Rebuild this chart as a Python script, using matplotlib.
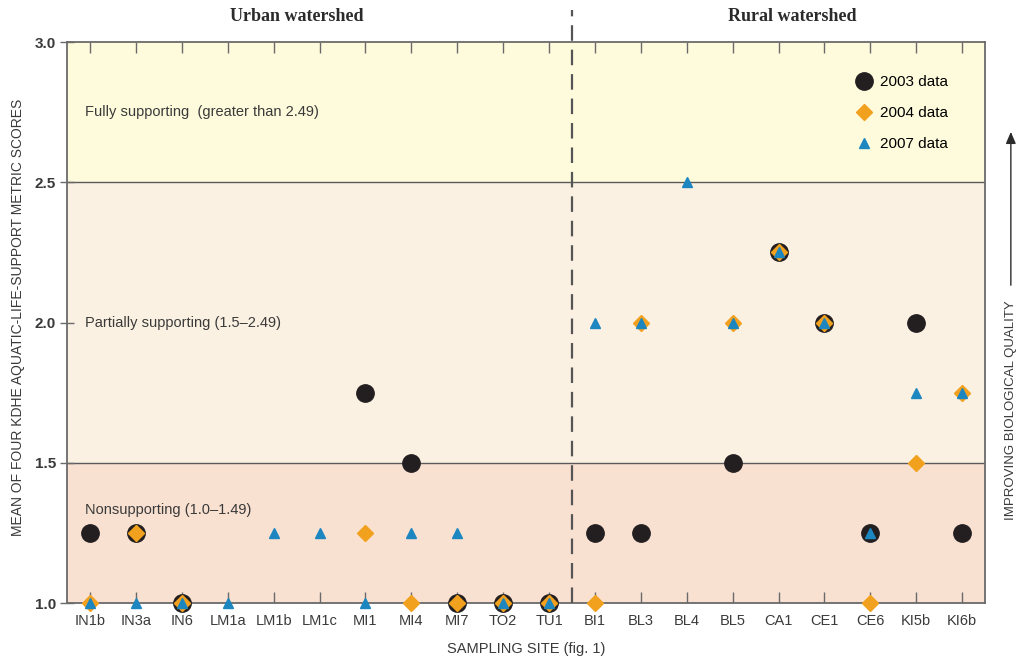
import numpy as np
import matplotlib
matplotlib.use("Agg")
import matplotlib.pyplot as plt
from matplotlib.lines import Line2D
from matplotlib.patches import FancyArrowPatch

plt.rcParams['font.family'] = ['Liberation Sans', 'DejaVu Sans']

sites = ["IN1b", "IN3a", "IN6", "LM1a", "LM1b", "LM1c", "MI1", "MI4", "MI7", "TO2", "TU1",
         "BI1", "BL3", "BL4", "BL5", "CA1", "CE1", "CE6", "KI5b", "KI6b"]
n_urban = 11

# None = no sample that year
data_2003 = [1.25, 1.25, 1.0, None, None, None, 1.75, 1.5, 1.0, 1.0, 1.0,
             1.25, 1.25, None, 1.5, 2.25, 2.0, 1.25, 2.0, 1.25]
data_2004 = [1.0, 1.25, 1.0, None, None, None, 1.25, 1.0, 1.0, 1.0, 1.0,
             1.0, 2.0, None, 2.0, 2.25, 2.0, 1.0, 1.5, 1.75]
data_2007 = [1.0, 1.0, 1.0, 1.0, 1.25, 1.25, 1.0, 1.25, 1.25, 1.0, 1.0,
             2.0, 2.0, 2.5, 2.0, 2.25, 2.0, 1.25, 1.75, 1.75]

bands = [(1.0, 1.5, "#f9e1d2", "Nonsupporting (1.0\u20131.49)", 1.33),
         (1.5, 2.5, "#fbf1e2", "Partially supporting (1.5\u20132.49)", 2.0),
         (2.5, 3.0, "#fefbdc", "Fully supporting  (greater than 2.49)", 2.75)]

c_black = "#231f20"
c_orange = "#f2a11f"
c_blue = "#1c86c0"
c_axis = "#6a6a6a"
c_text = "#3a3a3a"


def points(vals):
    x = [i for i, v in enumerate(vals) if v is not None]
    y = [v for v in vals if v is not None]
    return x, y


fig = plt.figure(figsize=(10.19, 6.62), dpi=100)
ax = fig.add_axes([0.0658, 0.0891, 0.9009, 0.8474])

for lo, hi, col, label, ytxt in bands:
    ax.axhspan(lo, hi, color=col, zorder=0, lw=0)
    ax.text(0.02, ytxt, label, transform=ax.get_yaxis_transform(),
            fontsize=10.5, color=c_text, va="center", ha="left")
for yl in [1.5, 2.5]:
    ax.axhline(yl, color="#5a5a5a", lw=1.0, zorder=1)

x, y = points(data_2003)
ax.plot(x, y, ls="none", marker="o", ms=12.5, color=c_black, zorder=3, clip_on=False)
x, y = points(data_2004)
ax.plot(x, y, ls="none", marker="D", ms=8, color=c_orange, zorder=4, clip_on=False)
x, y = points(data_2007)
ax.plot(x, y, ls="none", marker="^", ms=6.5, color=c_blue, zorder=5, clip_on=False)

ax.set_xlim(-0.5, len(sites) - 0.5)
ax.set_ylim(1.0, 3.0)
ax.set_xticks(range(len(sites)))
ax.set_xticklabels(sites, fontsize=10.5, color=c_text)
ax.set_yticks([1.0, 1.5, 2.0, 2.5, 3.0])
ax.set_yticklabels(["1.0", "1.5", "2.0", "2.5", "3.0"], fontsize=11, color=c_text,
                   fontweight="bold")
ax.tick_params(axis="x", direction="in", length=8, width=1, color=c_axis,
               top=True, bottom=True, pad=8)
ax.tick_params(axis="y", direction="inout", length=10, width=1, color=c_axis, pad=3)
for s in ax.spines.values():
    s.set_color(c_axis)
    s.set_linewidth(1.3)

# divider between urban and rural
ax.add_line(Line2D([n_urban - 0.5, n_urban - 0.5], [0, 1.057], transform=ax.get_xaxis_transform(),
                   color="#555555", lw=1.6, ls=(0, (7, 4)), clip_on=False, zorder=6))

ax.text((n_urban - 1) / 2 - 0.5, 1.03, "Urban watershed", transform=ax.get_xaxis_transform(),
        ha="center", va="bottom", family="Liberation Serif", fontweight="bold", fontsize=13,
        color="#2b2b2b")
ax.text((n_urban + len(sites) - 1) / 2 + 0.3, 1.03, "Rural watershed",
        transform=ax.get_xaxis_transform(), ha="center", va="bottom",
        family="Liberation Serif", fontweight="bold", fontsize=13, color="#2b2b2b")

ax.set_xlabel("SAMPLING SITE (fig. 1)", fontsize=10.5, color=c_text, labelpad=10)
fig.text(0.018, 0.52, "MEAN OF FOUR KDHE AQUATIC-LIFE-SUPPORT METRIC SCORES", rotation=90,
         ha="center", va="center", fontsize=10, color=c_text)

# improving-quality arrow on the right
fig.text(0.992, 0.38, "IMPROVING BIOLOGICAL QUALITY", rotation=90, ha="center", va="center",
         fontsize=9.5, color=c_text)
fig.add_artist(FancyArrowPatch((0.992, 0.565), (0.992, 0.805), transform=fig.transFigure,
                               arrowstyle="-|>,head_length=7,head_width=3",
                               color="#2b2b2b", lw=1))

handles = [Line2D([], [], ls="none", marker="o", ms=12.5, color=c_black),
           Line2D([], [], ls="none", marker="D", ms=8, color=c_orange),
           Line2D([], [], ls="none", marker="^", ms=6.5, color=c_blue)]
ax.legend(handles, ["2003 data", "2004 data", "2007 data"], loc="upper right",
          bbox_to_anchor=(0.975, 0.965), frameon=False, fontsize=11, labelspacing=1.1,
          handletextpad=0.3, handlelength=1.5)

fig.savefig("out.png", dpi=100)
